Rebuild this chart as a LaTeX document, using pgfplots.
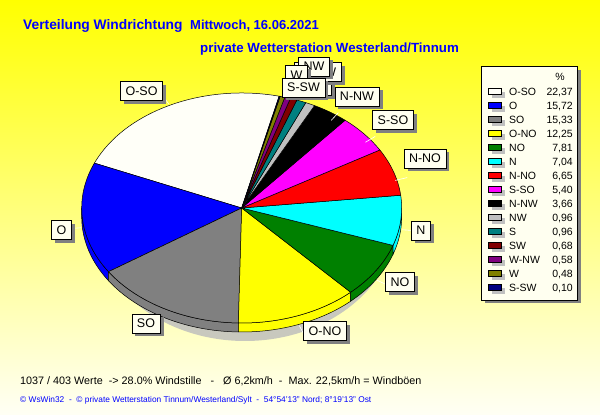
\documentclass[border=0pt]{standalone}
\usepackage{pgfplots}
\pgfplotsset{compat=1.18}
\usetikzlibrary{shadows}
\usepackage{fontspec}
\setmainfont{Liberation Sans}
\definecolor{bgbot}{RGB}{255,255,245}
\definecolor{cream}{RGB}{255,255,240}
\definecolor{cOSO}{RGB}{255,255,248}
\definecolor{cO}{RGB}{0,0,255}
\definecolor{cSO}{RGB}{128,128,128}
\definecolor{cONO}{RGB}{255,255,0}
\definecolor{cNO}{RGB}{0,128,0}
\definecolor{cN}{RGB}{0,255,255}
\definecolor{cNNO}{RGB}{255,0,0}
\definecolor{cSSO}{RGB}{255,0,255}
\definecolor{cNNW}{RGB}{0,0,0}
\definecolor{cNW}{RGB}{192,192,192}
\definecolor{cS}{RGB}{0,128,128}
\definecolor{cSW}{RGB}{128,0,0}
\definecolor{cWNW}{RGB}{128,0,128}
\definecolor{cW}{RGB}{128,128,0}
\definecolor{cSSW}{RGB}{0,0,128}
\definecolor{shadowgray}{RGB}{128,128,128}
\definecolor{pieshadow}{RGB}{200,200,190}
\definecolor{tblue}{RGB}{0,0,255}

% value / colour / name
\def\piedata{22.37/cOSO/O-SO, 15.72/cO/O, 15.33/cSO/SO, 12.25/cONO/O-NO, 7.81/cNO/NO, 7.04/cN/N, 6.65/cNNO/N-NO, 5.40/cSSO/S-SO, 3.66/cNNW/N-NW, 0.96/cNW/NW, 0.96/cS/S, 0.68/cSW/SW, 0.58/cWNW/W-NW, 0.48/cW/W, 0.10/cSSW/S-SW}
\def\pcx{241.7}\def\pcy{207}\def\prx{160}\def\pry{115}\def\pdep{9}\def\pstart{76.5}

\tikzset{lbl/.style={draw=black, line width=0.5pt, fill=cream, font=\fontsize{12.5}{14}\selectfont,
  inner xsep=5pt, inner ysep=0pt, minimum height=19pt, text height=9pt, text depth=0pt,
  general shadow={fill=shadowgray, shadow xshift=3.5pt, shadow yshift=-3.5pt}}}

\begin{document}
\begin{tikzpicture}
\begin{axis}[hide axis, x=1pt, y=1pt, xmin=0, xmax=600, ymin=0, ymax=415,
  scale only axis, clip=false, /pgf/number format/assume math mode=true]
\shade[top color=yellow, bottom color=bgbot] (axis cs:0,0) rectangle (axis cs:600,415);
\fill[pieshadow] (axis cs:245,198) ellipse [x radius=152pt, y radius=124pt];
% sides of the pie
\gdef\cum{0}
\foreach \v/\c/\n in \piedata {
  \pgfmathsetmacro\aA{\pstart+3.6*\cum}
  \pgfmathsetmacro\aB{\pstart+3.6*(\cum+\v)}
  \pgfmathsetmacro\sA{max(\aA,180)}
  \pgfmathsetmacro\sB{min(\aB,360)}
  \pgfmathsetmacro\xS{\pcx+\prx*cos(\sA)}
  \pgfmathsetmacro\yS{\pcy+\pry*sin(\sA)}
  \pgfmathsetmacro\newcum{\cum+\v}
  \xdef\cum{\newcum}
  \ifdim\sA pt<\sB pt
    \edef\tmp{\noexpand\filldraw[fill=\c, draw=black, line width=0.5pt] (axis cs:\xS,\yS) arc[start angle=\sA, end angle=\sB, x radius=\prx pt, y radius=\pry pt] -- ++(0pt,-\pdep pt) arc[start angle=\sB, end angle=\sA, x radius=\prx pt, y radius=\pry pt] -- cycle;}
    \tmp
  \fi
}
% top faces
\gdef\cum{0}
\foreach \v/\c/\n in \piedata {
  \pgfmathsetmacro\aA{\pstart+3.6*\cum}
  \pgfmathsetmacro\aB{\pstart+3.6*(\cum+\v)}
  \pgfmathsetmacro\xA{\pcx+\prx*cos(\aA)}
  \pgfmathsetmacro\yA{\pcy+\pry*sin(\aA)}
  \pgfmathsetmacro\newcum{\cum+\v}
  \xdef\cum{\newcum}
  \edef\tmp{\noexpand\filldraw[fill=\c, draw=black, line width=0.5pt] (axis cs:\pcx,\pcy) -- (axis cs:\xA,\yA) arc[start angle=\aA, end angle=\aB, x radius=\prx pt, y radius=\pry pt] -- cycle;}
  \tmp
}
% leader lines
\gdef\cum{0}
\foreach \v/\c/\n in \piedata {
  \pgfmathsetmacro\am{\pstart+3.6*(\cum+\v/2)}
  \pgfmathsetmacro\dd{\am>180 ? \pdep : 0}
  \pgfmathsetmacro\xa{\pcx+1.01*\prx*cos(\am)}
  \pgfmathsetmacro\ya{\pcy+1.01*\pry*sin(\am)-\dd}
  \pgfmathsetmacro\xb{\pcx+1.09*\prx*cos(\am)}
  \pgfmathsetmacro\yb{\pcy+1.09*\pry*sin(\am)-\dd}
  \pgfmathsetmacro\newcum{\cum+\v}
  \xdef\cum{\newcum}
  \ifdim\v pt>1pt
    \edef\tmp{\noexpand\draw[white, line width=0.6pt] (axis cs:\xa,\ya) -- (axis cs:\xb,\yb);}
    \tmp
  \fi
}
% slice labels
\node[lbl] at (axis cs:141.5,324) {O-SO};
\node[lbl] at (axis cs:61.5,185) {O};
\node[lbl] at (axis cs:146,91.5) {SO};
\node[lbl] at (axis cs:325,84) {O-NO};
\node[lbl] at (axis cs:400,133) {NO};
\node[lbl] at (axis cs:421,184.5) {N};
\node[lbl] at (axis cs:425,256.5) {N-NO};
\node[lbl] at (axis cs:393,295) {S-SO};
\node[lbl] at (axis cs:357,318.5) {N-NW};
\node[lbl] at (axis cs:322,329) {S};
\node[lbl] at (axis cs:306,337) {SW};
\node[lbl] at (axis cs:318,343) {W-NW};
\node[lbl] at (axis cs:314,348.5) {NW};
\node[lbl] at (axis cs:296.5,340) {W};
\node[lbl] at (axis cs:303.5,327.5) {S-SW};
% legend
\fill[shadowgray] (axis cs:485,112) rectangle (axis cs:581,345);
\filldraw[fill=cream, draw=black, line width=0.6pt] (axis cs:481.7,115) rectangle (axis cs:577.3,348.3);
\node[anchor=base, font=\fontsize{10.5}{12}\selectfont] at (axis cs:560,334.5) {\%};
\foreach \v/\c/\n [count=\i from 0] in \piedata {
  \pgfmathsetmacro\ly{323.7-14*\i}
  \pgfmathsetmacro\lyb{\ly-3}
  \pgfmathsetmacro\lyt{\ly+3}
  \pgfmathsetmacro\lysb{\ly-6.5}
  \pgfmathsetmacro\lyst{\ly-0.5}
  \pgfmathsetmacro\lytx{\ly-3.8}
  \edef\tmp{\noexpand\fill[cNW] (axis cs:492,\lysb) rectangle (axis cs:505,\lyst);
    \noexpand\filldraw[fill=\c, draw=black, line width=0.5pt] (axis cs:488,\lyb) rectangle (axis cs:501,\lyt);
    \noexpand\node[anchor=base west, inner sep=0pt, font=\noexpand\fontsize{10.5}{12}\noexpand\selectfont] at (axis cs:509,\lytx) {\n};
    \noexpand\node[anchor=base east, inner sep=0pt, font=\noexpand\fontsize{10.5}{12}\noexpand\selectfont] at (axis cs:573,\lytx) {\noexpand\pgfmathprintnumber[fixed, precision=2, fixed zerofill, use comma]{\v}};}
  \tmp
}
% titles
\node[anchor=base west, inner sep=0pt, text=tblue, font=\fontsize{13.8}{15}\bfseries\selectfont] at (axis cs:23,385) {Verteilung Windrichtung};
\node[anchor=base west, inner sep=0pt, text=tblue, font=\fontsize{13}{15}\bfseries\selectfont] at (axis cs:190,385) {Mittwoch, 16.06.2021};
\node[anchor=base west, inner sep=0pt, text=tblue, font=\fontsize{13.3}{15}\bfseries\selectfont] at (axis cs:200,362) {private Wetterstation Westerland/Tinnum};
% footer
\node[anchor=base west, inner sep=0pt, font=\fontsize{10.8}{13}\selectfont] at (axis cs:20,30.5) {1037 / 403 Werte \ -> 28.0\% Windstille \ \ - \ \ Ø 6,2km/h \ - \ Max. 22,5km/h = Windböen};
\node[anchor=base west, inner sep=0pt, text=tblue, font=\fontsize{8.35}{9}\selectfont] at (axis cs:20,12.5) {© WsWin32 \ - \ © private Wetterstation Tinnum/Westerland/Sylt \ - \ 54°54'13'' Nord; 8°19'13'' Ost};
\end{axis}
\end{tikzpicture}
\end{document}
